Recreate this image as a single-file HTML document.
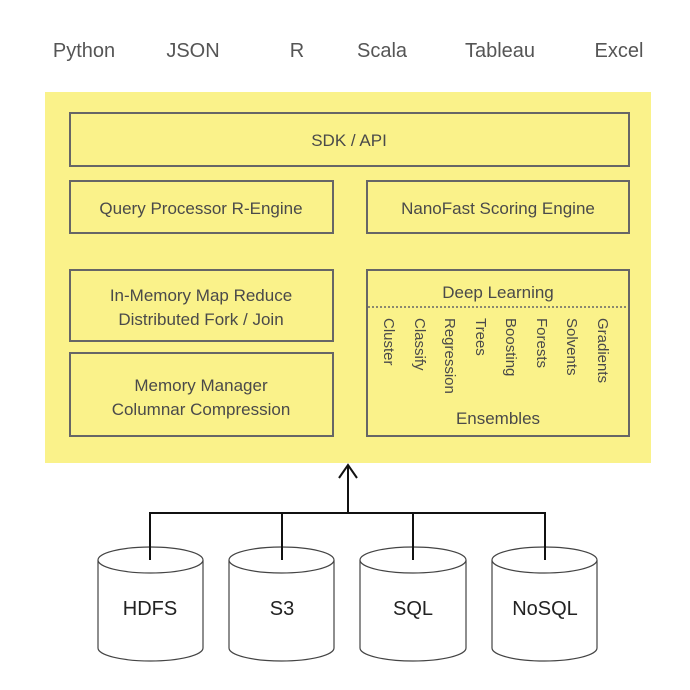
<!DOCTYPE html>
<html><head><style>
html,body{margin:0;padding:0;background:#fff;}
svg{display:block;}
text{font-family:"Liberation Sans",sans-serif;}
</style></head><body>
<svg width="690" height="690" viewBox="0 0 690 690" xmlns="http://www.w3.org/2000/svg">
<g fill="#555" font-size="20" text-anchor="middle">
<text x="84" y="57">Python</text>
<text x="193" y="57">JSON</text>
<text x="297" y="57">R</text>
<text x="382" y="57">Scala</text>
<text x="500" y="57">Tableau</text>
<text x="619" y="57">Excel</text>
</g>
<rect x="45" y="92" width="606" height="371" fill="#faf28a"/>
<g fill="none" stroke="#666" stroke-width="2">
<rect x="70" y="113" width="559" height="53"/>
<rect x="70" y="181" width="263" height="52"/>
<rect x="367" y="181" width="262" height="52"/>
<rect x="70" y="270" width="263" height="71"/>
<rect x="70" y="353" width="263" height="83"/>
<rect x="367" y="270" width="262" height="166"/>
<line x1="368" y1="307" x2="628" y2="307" stroke-dasharray="2,2" stroke-width="1.5"/>
</g>
<g fill="#4a4a4a" font-size="17" text-anchor="middle">
<text x="349" y="146">SDK / API</text>
<text x="201" y="214">Query Processor R-Engine</text>
<text x="498" y="214">NanoFast Scoring Engine</text>
<text x="201" y="301">In-Memory Map Reduce</text>
<text x="201" y="325">Distributed Fork / Join</text>
<text x="201" y="391">Memory Manager</text>
<text x="201" y="415">Columnar Compression</text>
<text x="498" y="298">Deep Learning</text>
<text x="498" y="424">Ensembles</text>
</g>
<g fill="#4a4a4a" font-size="15">
<text transform="translate(384,318) rotate(90)">Cluster</text>
<text transform="translate(415,318) rotate(90)">Classify</text>
<text transform="translate(445,318) rotate(90)">Regression</text>
<text transform="translate(476,318) rotate(90)">Trees</text>
<text transform="translate(506,318) rotate(90)">Boosting</text>
<text transform="translate(537,318) rotate(90)">Forests</text>
<text transform="translate(567,318) rotate(90)">Solvents</text>
<text transform="translate(598,318) rotate(90)">Gradients</text>
</g>
<g fill="none" stroke="#111" stroke-width="2">
<line x1="348" y1="513" x2="348" y2="465"/>
<polyline points="339,478 348,465 357,478"/>
<line x1="150" y1="513" x2="545" y2="513"/>
</g>
<g fill="#fff" stroke="#444" stroke-width="1.2">
<path d="M98,560 L98,648 A52.5,13 0 0 0 203,648 L203,560"/>
<ellipse cx="150.5" cy="560" rx="52.5" ry="13"/>
<path d="M229,560 L229,648 A52.5,13 0 0 0 334,648 L334,560"/>
<ellipse cx="281.5" cy="560" rx="52.5" ry="13"/>
<path d="M360,560 L360,648 A53,13 0 0 0 466,648 L466,560"/>
<ellipse cx="413" cy="560" rx="53" ry="13"/>
<path d="M492,560 L492,648 A52.5,13 0 0 0 597,648 L597,560"/>
<ellipse cx="544.5" cy="560" rx="52.5" ry="13"/>
</g>
<g stroke="#111" stroke-width="2">
<line x1="150" y1="512" x2="150" y2="560"/>
<line x1="282" y1="512" x2="282" y2="560"/>
<line x1="413" y1="512" x2="413" y2="560"/>
<line x1="545" y1="512" x2="545" y2="560"/>
</g>
<g fill="#222" font-size="20" text-anchor="middle">
<text x="150" y="615">HDFS</text>
<text x="282" y="615">S3</text>
<text x="413" y="615">SQL</text>
<text x="545" y="615">NoSQL</text>
</g>
</svg>
</body></html>
